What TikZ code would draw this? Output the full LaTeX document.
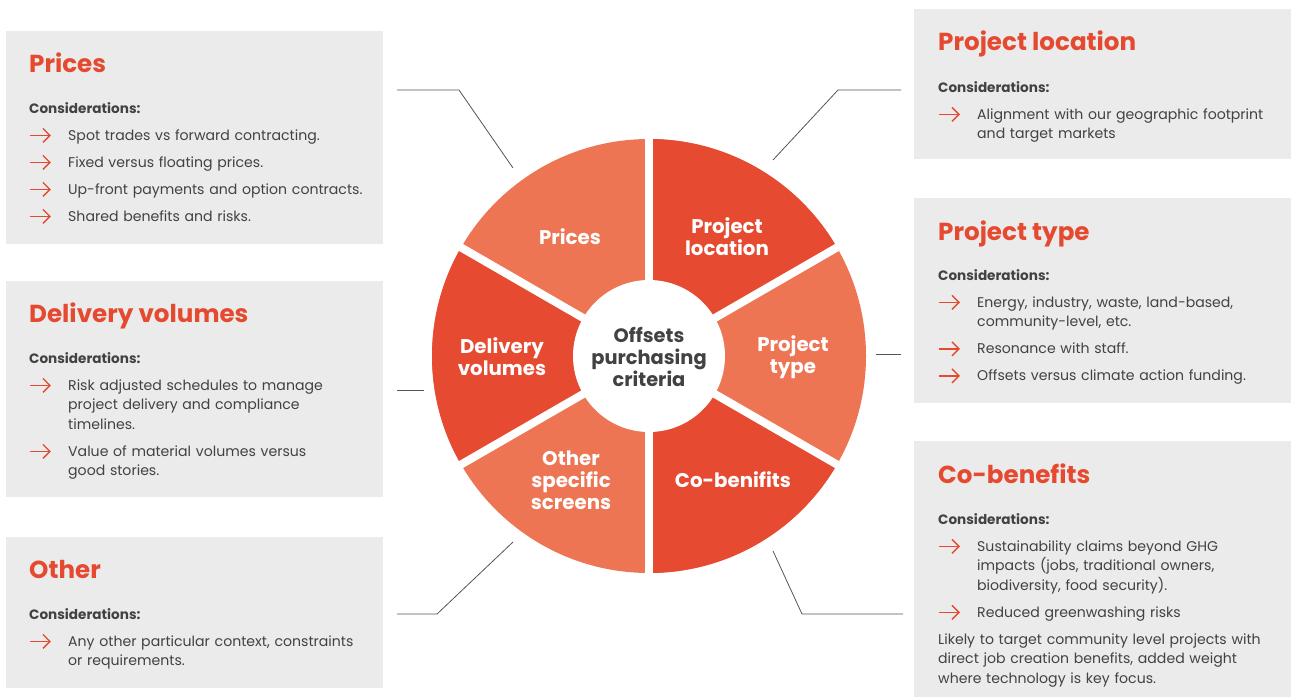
\documentclass[tikz,border=0pt]{standalone}
\usepackage{fontspec}
\setmainfont{Poppins}
\usetikzlibrary{positioning, arrows.meta}

\definecolor{accent}{HTML}{E5492F}
\definecolor{segdark}{HTML}{E64A30}
\definecolor{seglight}{HTML}{EE7554}
\definecolor{boxgrey}{HTML}{EBEBEB}
\definecolor{textgrey}{HTML}{424242}
\definecolor{linegrey}{HTML}{555555}

% orange arrow in front of each consideration
\newcommand{\arr}{\tikz[baseline={(0pt,-4.6pt)}]\draw[accent, line width=1.4pt, -{Straight Barb[length=7pt,width=14pt]}] (0pt,0pt) -- (21pt,0pt);}
\newcommand{\consitem}[1]{\noindent\hangindent=39pt\hangafter=1\makebox[39pt][l]{\arr}#1\par}
\newcommand{\considhead}{{\fontsize{13.6}{19.5}\selectfont\bfseries Considerations:}\par}

\begin{document}
\begin{tikzpicture}[x=1pt, y=-1pt,
    box/.style={fill=boxgrey, inner sep=0, minimum width=377, minimum height=#1, anchor=north west},
    title/.style={anchor=base west, inner sep=0, text=accent, font=\fontsize{24.6}{28}\selectfont\bfseries},
    body/.style={anchor=base west, inner sep=0, text width=350, text=textgrey, font=\fontsize{14.1}{19.5}\selectfont},
    seg/.style={text=white, align=center, inner sep=0, font=\fontsize{19.8}{22}\selectfont\bfseries},
    link/.style={linegrey, line width=0.8pt}]

    \useasboundingbox (0,0) rectangle (1292,699);

    % grey boxes
    \node[box=213] (prices) at (6,31) {};
    \node[box=216] (delivery) at (6,281) {};
    \node[box=151] (other) at (6,537) {};
    \node[box=150] (location) at (914,9) {};
    \node[box=205] (type) at (914,198) {};
    \node[box=256] (cobenefits) at (914,441) {};

    % wheel
    \begin{scope}[shift={(649,356)}, yscale=-1]
        \fill[seglight] (0,0) circle (217);
        \foreach \a in {30,150,270}
        {
            \fill[segdark] (0,0) -- (\a:217) arc (\a:\a+60:217) -- cycle;
        }
        \foreach \a in {30,90,...,330}
        {
            \draw[white, line width=8pt] (0,0) -- (\a:222);
        }
        \fill[white] (0,0) circle (76);
    \end{scope}

    \node[seg] (w-prices) at (570,237) {Prices};
    \node[seg] (w-location) at (727,237) {Project\\location};
    \node[seg] (w-type) at (793,357) {Project\\type};
    \node[seg] (w-cobenefits) at (733,480) {Co-benifits};
    \node[seg] (w-other) at (571,480) {Other\\specific\\screens};
    \node[seg] (w-delivery) at (502,357) {Delivery\\volumes};
    \node[seg, text=textgrey, font=\fontsize{19.4}{22}\selectfont\bfseries] (w-centre) at (649,357) {Offsets\\purchasing\\criteria};

    % left texts
    \node[title] (t-prices) at (29,72) {Prices};
    \node[body] (b-prices) at (29,113) {\setlength{\parskip}{7.5pt}%
        \considhead
        \consitem{Spot trades vs forward contracting.}
        \consitem{Fixed versus floating prices.}
        \consitem{Up-front payments and option contracts.}
        \consitem{Shared benefits and risks.}};

    \node[title] (t-delivery) at (29,322) {Delivery volumes};
    \node[body] (b-delivery) at (29,363) {\setlength{\parskip}{7.5pt}%
        \considhead
        \consitem{Risk adjusted schedules to manage\newline project delivery and compliance\newline timelines.}
        \consitem{Value of material volumes versus\newline good stories.}};

    \node[title] (t-other) at (29,578) {Other};
    \node[body] (b-other) at (29,619) {\setlength{\parskip}{7.5pt}%
        \considhead
        \consitem{Any other particular context, constraints\newline or requirements.}};

    % right texts
    \node[title] (t-location) at (938,50) {Project location};
    \node[body] (b-location) at (938,92) {\setlength{\parskip}{7.5pt}%
        \considhead
        \consitem{Alignment with our geographic footprint\newline and target markets}};

    \node[title] (t-type) at (938,240) {Project type};
    \node[body] (b-type) at (938,280) {\setlength{\parskip}{7.5pt}%
        \considhead
        \consitem{Energy, industry, waste, land-based,\newline community-level, etc.}
        \consitem{Resonance with staff.}
        \consitem{Offsets versus climate action funding.}};

    \node[title] (t-cobenefits) at (938,483) {Co-benefits};
    \node[body] (b-cobenefits) at (938,524) {\setlength{\parskip}{7.5pt}%
        \considhead
        \consitem{Sustainability claims beyond GHG\newline impacts (jobs, traditional owners,\newline biodiversity, food security).}
        \consitem{Reduced greenwashing risks}
        \noindent Likely to target community level projects with\newline direct job creation benefits, added weight\newline where technology is key focus.};

    % leader lines
    \coordinate (l-prices) at (397,90);
    \coordinate (k-prices) at (459,90);
    \coordinate (e-prices) at (513,168);
    \coordinate (l-location) at (901,90);
    \coordinate (k-location) at (838,90);
    \coordinate (e-location) at (773,160);
    \coordinate (l-delivery) at (397,390);
    \coordinate (e-delivery) at (424,390);
    \coordinate (l-type) at (901,354);
    \coordinate (e-type) at (876,354);
    \coordinate (l-other) at (397,614);
    \coordinate (k-other) at (437,614);
    \coordinate (e-other) at (513,542);
    \coordinate (l-cobenefits) at (903,614);
    \coordinate (k-cobenefits) at (802,614);
    \coordinate (e-cobenefits) at (773,551);

    \draw[link] (l-prices) -- (k-prices) -- (e-prices);
    \draw[link] (l-location) -- (k-location) -- (e-location);
    \draw[link] (l-delivery) -- (e-delivery);
    \draw[link] (l-type) -- (e-type);
    \draw[link] (l-other) -- (k-other) -- (e-other);
    \draw[link] (l-cobenefits) -- (k-cobenefits) -- (e-cobenefits);
\end{tikzpicture}
\end{document}
